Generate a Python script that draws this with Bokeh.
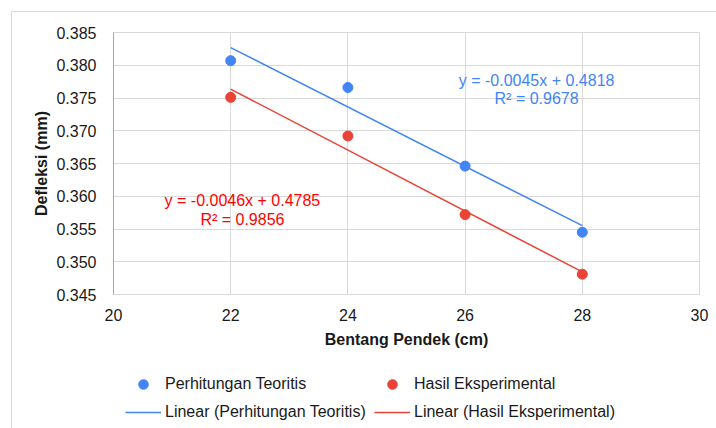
import numpy as np
from bokeh.plotting import figure
from bokeh.layouts import column
from bokeh.models import Range1d, Legend, LegendItem, Label, FixedTicker, NumeralTickFormatter
from bokeh.embed import file_html
from bokeh.resources import INLINE

# ---- data ----
bentang = [22, 24, 26, 28]
teoritis = [0.3807, 0.3766, 0.3646, 0.3545]
eksperimental = [0.3751, 0.3692, 0.3572, 0.3481]
x_ticks = [20, 22, 24, 26, 28, 30]
y_ticks = [0.345, 0.350, 0.355, 0.360, 0.365, 0.370, 0.375, 0.380, 0.385]
eq_teoritis = ["y = -0.0045x + 0.4818", "R² = 0.9678"]
eq_eksperimental = ["y = -0.0046x + 0.4785", "R² = 0.9856"]
legend_labels = ["Perhitungan Teoritis", "Hasil Eksperimental",
                 "Linear (Perhitungan Teoritis)", "Linear (Hasil Eksperimental)"]

BLUE = "#4285F4"
RED = "#EA4335"
FONT = "Liberation Sans"
TXT = "#1a1a1a"

p = figure(width=704, height=342, output_backend="svg", toolbar_location=None,
           x_range=Range1d(20, 30), y_range=Range1d(0.345, 0.385),
           frame_width=586, frame_height=262,
           min_border_left=101, min_border_top=20, min_border_right=17, min_border_bottom=60)
p.outline_line_color = "#d9d9d9"

for ax in (p.xaxis[0], p.yaxis[0]):
    ax.major_tick_line_color = None
    ax.minor_tick_line_color = None
    ax.major_label_text_font = FONT
    ax.major_label_text_font_size = "16px"
    ax.major_label_text_color = TXT
    ax.axis_label_text_font = FONT
    ax.axis_label_text_font_size = "16px"
    ax.axis_label_text_font_style = "bold"
    ax.axis_label_text_color = TXT

p.xaxis.ticker = FixedTicker(ticks=x_ticks)
p.yaxis.ticker = FixedTicker(ticks=y_ticks)
p.yaxis.formatter = NumeralTickFormatter(format="0.000")
p.xaxis.axis_label = "Bentang Pendek (cm)"
p.yaxis.axis_label = "Defleksi (mm)"
p.xaxis.axis_line_color = "#d9d9d9"
p.yaxis.axis_line_color = "#a6a6a6"
p.xaxis.major_label_standoff = 8
p.yaxis.major_label_standoff = 11
p.xaxis.axis_label_standoff = 7
p.yaxis.axis_label_standoff = 3

p.xgrid.ticker = FixedTicker(ticks=x_ticks)
p.ygrid.ticker = FixedTicker(ticks=y_ticks)
p.grid.grid_line_color = "#d9d9d9"
p.grid.grid_line_width = 1

# trend lines via least squares
xs = np.array(bentang, dtype=float)
m1, b1 = np.polyfit(xs, np.array(teoritis), 1)
m2, b2 = np.polyfit(xs, np.array(eksperimental), 1)
xl = [xs.min(), xs.max()]
p.line(xl, [m1 * v + b1 for v in xl], line_color=BLUE, line_width=1.5)
p.line(xl, [m2 * v + b2 for v in xl], line_color=RED, line_width=1.5)
p.scatter(bentang, teoritis, size=10, color=BLUE)
p.scatter(bentang, eksperimental, size=10, color=RED)

for txt, yy in zip(eq_teoritis, [0.37761, 0.37492]):
    p.add_layout(Label(x=27.22, y=yy, text=txt, text_align="center", text_baseline="middle",
                       text_font=FONT, text_font_size="16px", text_color=BLUE))
for txt, yy in zip(eq_eksperimental, [0.35929, 0.3565]):
    p.add_layout(Label(x=22.2, y=yy, text=txt, text_align="center", text_baseline="middle",
                       text_font=FONT, text_font_size="16px", text_color="#FF0000"))

# legend strip (own small figure, so the legend is not clipped by the plot frame)
p2 = figure(width=704, height=74, output_backend="svg", toolbar_location=None,
            min_border=0, x_range=Range1d(0, 1), y_range=Range1d(0, 1))
p2.axis.visible = False
p2.grid.visible = False
p2.outline_line_color = None
nan = [float("nan")]
r1 = p2.scatter(nan, nan, size=10, color=BLUE)
r2 = p2.scatter(nan, nan, size=10, color=RED)
r3 = p2.line(nan, nan, line_color=BLUE, line_width=1.5)
r4 = p2.line(nan, nan, line_color=RED, line_width=1.5)
rends = [r1, r2, r3, r4]

def make_legend(idx, x):
    return Legend(items=[LegendItem(label=legend_labels[i], renderers=[rends[i]], index=0) for i in idx],
                  location=(x, 4), orientation="vertical",
                  glyph_width=36, glyph_height=24, label_height=24, label_standoff=4, spacing=4,
                  padding=0, margin=0, border_line_alpha=0, background_fill_alpha=0,
                  label_text_font=FONT, label_text_font_size="16px", label_text_color=TXT)

p2.add_layout(make_legend([0, 2], 12), "center")
p2.add_layout(make_legend([1, 3], 261), "center")

layout = column(p, p2, spacing=0, margin=(11, 0, 0, 11),
                styles={"border-left": "1px solid #d9d9d9", "border-top": "1px solid #d9d9d9"})
open("out.html", "w").write(file_html(layout, INLINE))
